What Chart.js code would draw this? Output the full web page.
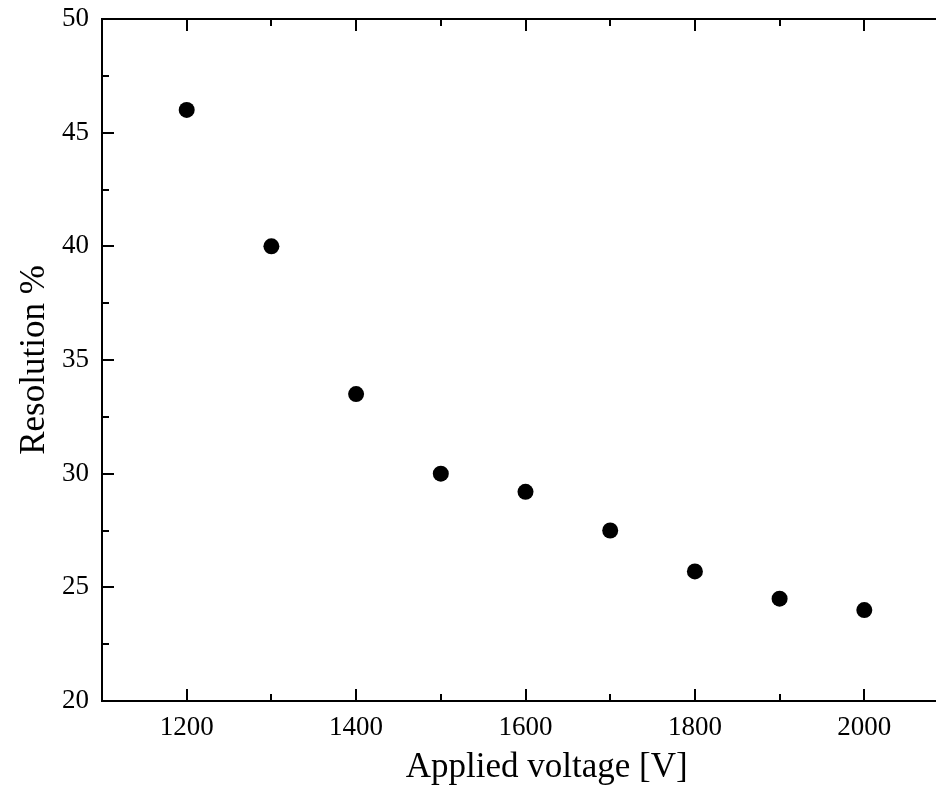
<!DOCTYPE html>
<html>
<head>
<meta charset="utf-8">
<script src="https://cdn.jsdelivr.net/npm/chart.js@4"></script>
<style>
  html, body { margin: 0; padding: 0; background: #fff; overflow: hidden; }
  #wrap { width: 957px; height: 787px; }
</style>
</head>
<body>
<div id="wrap"><canvas id="chart" width="957" height="787"></canvas></div>
<script>
const voltages = [1200, 1300, 1400, 1500, 1600, 1700, 1800, 1900, 2000];
const resolution = [46.0, 40.0, 33.5, 30.0, 29.2, 27.5, 25.7, 24.5, 24.0];
const xTicks = [1200, 1400, 1600, 1800, 2000];
const xMinorTicks = [1300, 1500, 1700, 1900];
const yTicks = [20, 25, 30, 35, 40, 45, 50];
const yMinorTicks = [22.5, 27.5, 32.5, 37.5, 42.5, 47.5];
const xTitle = 'Applied voltage [V]';

const serif = '"Liberation Serif", "DejaVu Serif", serif';

// frame on all four sides with ticks pointing inward, plus the x title
const framePlugin = {
  id: 'frame',
  afterDraw(chart) {
    const { ctx, chartArea: area } = chart;
    const x = chart.scales.x;
    const y = chart.scales.y;
    ctx.save();
    ctx.strokeStyle = '#000';
    ctx.lineWidth = 2;
    ctx.strokeRect(area.left, area.top, area.right - area.left, area.bottom - area.top);

    const drawX = (vals, len) => {
      vals.forEach((v) => {
        const px = Math.round(x.getPixelForValue(v));
        ctx.beginPath();
        ctx.moveTo(px, area.bottom);
        ctx.lineTo(px, area.bottom - len);
        ctx.moveTo(px, area.top);
        ctx.lineTo(px, area.top + len);
        ctx.stroke();
      });
    };
    const drawY = (vals, len) => {
      vals.forEach((v) => {
        const py = Math.round(y.getPixelForValue(v));
        ctx.beginPath();
        ctx.moveTo(area.left, py);
        ctx.lineTo(area.left + len, py);
        ctx.moveTo(area.right, py);
        ctx.lineTo(area.right - len, py);
        ctx.stroke();
      });
    };
    drawX(xTicks, 12);
    drawX(xMinorTicks, 7);
    drawY(yTicks, 12);
    drawY(yMinorTicks, 7);

    // title sits a bit right of the plot centre in the original
    ctx.fillStyle = '#000';
    ctx.font = '35px ' + serif;
    ctx.textAlign = 'center';
    ctx.textBaseline = 'middle';
    ctx.fillText(xTitle, x.getPixelForValue(1625), 768);
    ctx.restore();
  },
};

new Chart(document.getElementById('chart'), {
  type: 'scatter',
  data: {
    datasets: [{
      data: voltages.map((v, i) => ({ x: v, y: resolution[i] })),
      backgroundColor: '#000',
      borderColor: '#000',
      borderWidth: 0,
      pointRadius: 8,
    }],
  },
  options: {
    responsive: false,
    devicePixelRatio: 1,
    animation: false,
    layout: { padding: { top: 19, right: 1, left: 0, bottom: 0 } },
    plugins: { legend: { display: false }, tooltip: { enabled: false } },
    scales: {
      x: {
        type: 'linear',
        min: 1100,
        max: 2100,
        afterBuildTicks: (scale) => { scale.ticks = xTicks.map((v) => ({ value: v })); },
        afterFit: (scale) => { scale.height = 86; },
        grid: { display: false, drawTicks: false },
        border: { display: false },
        ticks: {
          color: '#000',
          font: { family: serif, size: 27 },
          padding: 11,
          maxRotation: 0,
          callback: (v) => String(v),
        },
      },
      y: {
        min: 20,
        max: 50,
        afterBuildTicks: (scale) => { scale.ticks = yTicks.map((v) => ({ value: v })); },
        afterFit: (scale) => {
          scale.width = 102;
          scale.paddingTop = 0;
          scale.paddingBottom = 0;
        },
        grid: { display: false, drawTicks: false },
        border: { display: false },
        ticks: { color: '#000', font: { family: serif, size: 27 }, padding: 13 },
        title: {
          display: true,
          text: 'Resolution %',
          color: '#000',
          font: { family: serif, size: 35 },
          padding: { top: 14, bottom: 0 },
        },
      },
    },
  },
  plugins: [framePlugin],
});
</script>
</body>
</html>
